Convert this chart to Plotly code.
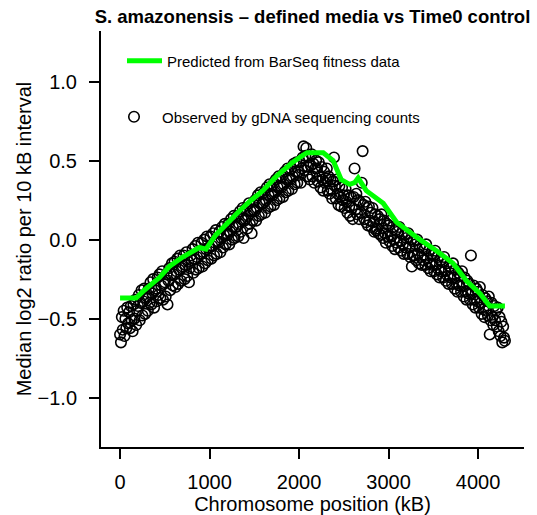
import plotly.graph_objects as go

# Observed: median log2 ratio per 10 kB interval, positions 0..4300 kB step 10
obs_pos_kb = list(range(0, 4310, 10))
obs_log2 = [
    -0.60, -0.65, -0.49, -0.57, -0.45, -0.61, -0.50, -0.56, -0.43, -0.53,
    -0.46, -0.56, -0.42, -0.51, -0.58, -0.41, -0.50, -0.38, -0.54, -0.45,
    -0.42, -0.35, -0.51, -0.40, -0.32, -0.48, -0.39, -0.31, -0.47, -0.37,
    -0.36, -0.45, -0.31, -0.40, -0.27, -0.41, -0.34, -0.25, -0.43, -0.32,
    -0.31, -0.39, -0.24, -0.35, -0.22, -0.37, -0.29, -0.20, -0.38, -0.28,
    -0.27, -0.36, -0.22, -0.41, -0.26, -0.18, -0.32, -0.22, -0.15, -0.29,
    -0.22, -0.14, -0.30, -0.20, -0.12, -0.28, -0.19, -0.10, -0.26, -0.18,
    -0.17, -0.10, -0.25, -0.16, -0.08, -0.23, -0.14, -0.27, -0.18, -0.10,
    -0.13, -0.06, -0.21, -0.12, -0.04, -0.19, -0.11, -0.02, -0.18, -0.09,
    -0.09, -0.02, -0.17, -0.08, 0.00, -0.15, -0.06, 0.02, -0.13, -0.05,
    -0.05, 0.02, -0.12, -0.04, 0.04, -0.10, -0.02, 0.06, -0.09, -0.01,
    -0.02, 0.05, -0.08, 0.01, 0.08, -0.05, 0.03, 0.10, -0.03, 0.04,
    0.03, 0.10, -0.03, 0.05, 0.13, 0.00, 0.08, 0.15, 0.01, 0.08,
    0.08, 0.15, 0.02, 0.10, 0.18, 0.05, 0.13, 0.20, 0.01, 0.12,
    0.13, 0.20, 0.07, 0.15, 0.23, 0.10, 0.18, 0.04, 0.12, 0.19,
    0.18, 0.25, 0.12, 0.20, 0.28, 0.15, 0.23, 0.30, 0.16, 0.23,
    0.23, 0.30, 0.17, 0.25, 0.33, 0.20, 0.28, 0.35, 0.21, 0.29,
    0.28, 0.35, 0.22, 0.30, 0.38, 0.25, 0.33, 0.40, 0.26, 0.34,
    0.33, 0.40, 0.27, 0.35, 0.43, 0.30, 0.38, 0.45, 0.31, 0.39,
    0.38, 0.45, 0.32, 0.40, 0.48, 0.35, 0.43, 0.49, 0.36, 0.43,
    0.41, 0.49, 0.36, 0.45, 0.52, 0.59, 0.44, 0.53, 0.58, 0.40,
    0.46, 0.52, 0.38, 0.47, 0.54, 0.40, 0.48, 0.36, 0.45, 0.50,
    0.45, 0.37, 0.49, 0.40, 0.33, 0.46, 0.38, 0.31, 0.43, 0.36,
    0.39, 0.45, 0.31, 0.40, 0.29, 0.38, 0.32, 0.26, 0.37, 0.52,
    0.34, 0.26, 0.38, 0.29, 0.22, 0.34, 0.27, 0.21, 0.33, 0.25,
    0.28, 0.20, 0.32, 0.24, 0.17, 0.28, 0.21, 0.15, 0.27, 0.20,
    0.13, 0.27, 0.45, 0.19, 0.29, 0.16, 0.25, 0.13, 0.24, 0.17,
    0.36, 0.56, 0.22, 0.13, 0.24, 0.11, 0.20, 0.09, 0.21, 0.12,
    0.17, 0.08, 0.20, 0.11, 0.05, 0.16, 0.06, 0.07, 0.15, 0.04,
    0.13, 0.03, 0.16, 0.07, 0.01, 0.12, 0.04, -0.02, 0.10, 0.02,
    0.09, -0.01, 0.12, 0.02, -0.04, 0.08, 0.00, -0.06, 0.06, -0.02,
    0.05, -0.05, 0.08, -0.01, -0.07, 0.04, -0.03, -0.09, 0.03, -0.05,
    0.01, -0.09, 0.04, -0.05, -0.11, 0.00, -0.17, -0.10, -0.01, -0.10,
    -0.03, -0.13, 0.00, -0.09, -0.15, -0.04, -0.11, -0.16, -0.05, -0.13,
    -0.06, -0.16, -0.03, -0.12, -0.18, -0.07, -0.15, -0.20, -0.09, -0.16,
    -0.10, -0.20, -0.07, -0.16, -0.22, -0.11, -0.19, -0.24, -0.13, -0.20,
    -0.14, -0.24, -0.11, -0.20, -0.26, -0.15, -0.23, -0.28, -0.17, -0.24,
    -0.18, -0.28, -0.15, -0.24, -0.31, -0.19, -0.28, -0.33, -0.21, -0.29,
    -0.23, -0.33, -0.20, -0.29, -0.36, -0.24, -0.33, -0.38, -0.26, -0.34,
    -0.28, -0.38, -0.10, -0.34, -0.41, -0.29, -0.38, -0.43, -0.31, -0.39,
    -0.33, -0.43, -0.30, -0.40, -0.47, -0.35, -0.44, -0.49, -0.37, -0.45,
    -0.39, -0.48, -0.36, -0.60, -0.51, -0.40, -0.49, -0.54, -0.42, -0.51,
    -0.45, -0.55, -0.43, -0.58, -0.49, -0.61, -0.52, -0.65, -0.55, -0.62,
    -0.64,
]

# Predicted from BarSeq fitness data
pred_pos_kb = [0, 180, 270, 440, 550, 700, 885, 960, 1070, 1220, 1330, 1445,
               1595, 1745, 1820, 1930, 2060, 2090, 2270, 2380, 2470, 2565,
               2620, 2660, 2750, 2940, 3090, 3200, 3350, 3535, 3720, 3870,
               4020, 4130, 4300]
pred_log2 = [-0.37, -0.37, -0.32, -0.24, -0.17, -0.11, -0.05, -0.06, 0.03, 0.12,
             0.18, 0.24, 0.31, 0.40, 0.44, 0.49, 0.54, 0.55, 0.55, 0.50, 0.38,
             0.35, 0.36, 0.39, 0.31, 0.23, 0.11, 0.06, 0.00, -0.07, -0.15,
             -0.26, -0.34, -0.42, -0.42]

x_ticks = [0, 1000, 2000, 3000, 4000]
y_ticks = [-1.0, -0.5, 0.0, 0.5, 1.0]

FONT = "Liberation Sans, Arial, Helvetica, sans-serif"

W, H = 537, 515
ML, MR, MT, MB = 101, 13, 31, 68
PH = H - MT - MB
PW = W - ML - MR

fig = go.Figure()
fig.add_trace(go.Scatter(
    x=obs_pos_kb, y=obs_log2, mode="markers",
    name="Observed by gDNA sequencing counts",
    marker=dict(symbol="circle-open", size=10.5, color="black",
                line=dict(width=1.6, color="black")),
    legend="legend2",
))
fig.add_trace(go.Scatter(
    x=pred_pos_kb, y=pred_log2, mode="lines",
    name="Predicted from BarSeq fitness data",
    line=dict(color="#00ff00", width=5),
    legend="legend",
))

axis_common = dict(
    showline=True, linecolor="black", linewidth=2,
    ticks="outside", ticklen=10, tickwidth=2, tickcolor="black",
    showgrid=False, zeroline=False, mirror=False, automargin=False,
    tickfont=dict(size=20, color="black", family=FONT),
)

fig.update_layout(
    width=W, height=H,
    margin=dict(l=ML, r=MR, t=MT, b=MB),
    paper_bgcolor="white", plot_bgcolor="white",
    font=dict(family=FONT, color="black"),
    title=dict(text="<b>S. amazonensis – defined media vs Time0 control</b>",
               x=0.5, xref="paper", xanchor="center",
               y=1 - 17 / H, yref="container", yanchor="middle",
               font=dict(size=18.5, color="black", family=FONT)),
    xaxis=dict(range=[-213, 4513], tickvals=x_ticks,
               ticktext=[str(v) for v in x_ticks],
               title=dict(text="Chromosome position (kB)",
                          font=dict(size=20, color="black", family=FONT),
                          standoff=3),
               ticklabelstandoff=6,
               **axis_common),
    yaxis=dict(range=[-1.312, 1.32], tickvals=y_ticks, tickformat=".1f",
               title=dict(text="Median log2 ratio per 10 kB interval",
                          font=dict(size=20, color="black", family=FONT),
                          standoff=1),
               ticklabelstandoff=8,
               **axis_common),
    legend=dict(x=(122 - ML) / PW, y=1 - (61 - MT) / PH, xanchor="left",
                yanchor="middle", bgcolor="rgba(0,0,0,0)",
                font=dict(size=15, color="black", family=FONT),
                itemwidth=35),
    legend2=dict(x=(106 - ML) / PW, y=1 - (117 - MT) / PH, xanchor="left",
                 yanchor="middle", bgcolor="rgba(0,0,0,0)",
                 font=dict(size=15, color="black", family=FONT),
                 itemwidth=46),
    showlegend=True,
)

fig.write_html(
    "out.html",
    config={"displayModeBar": False},
    post_script="document.body.style.margin='0';document.body.style.padding='0';",
)
